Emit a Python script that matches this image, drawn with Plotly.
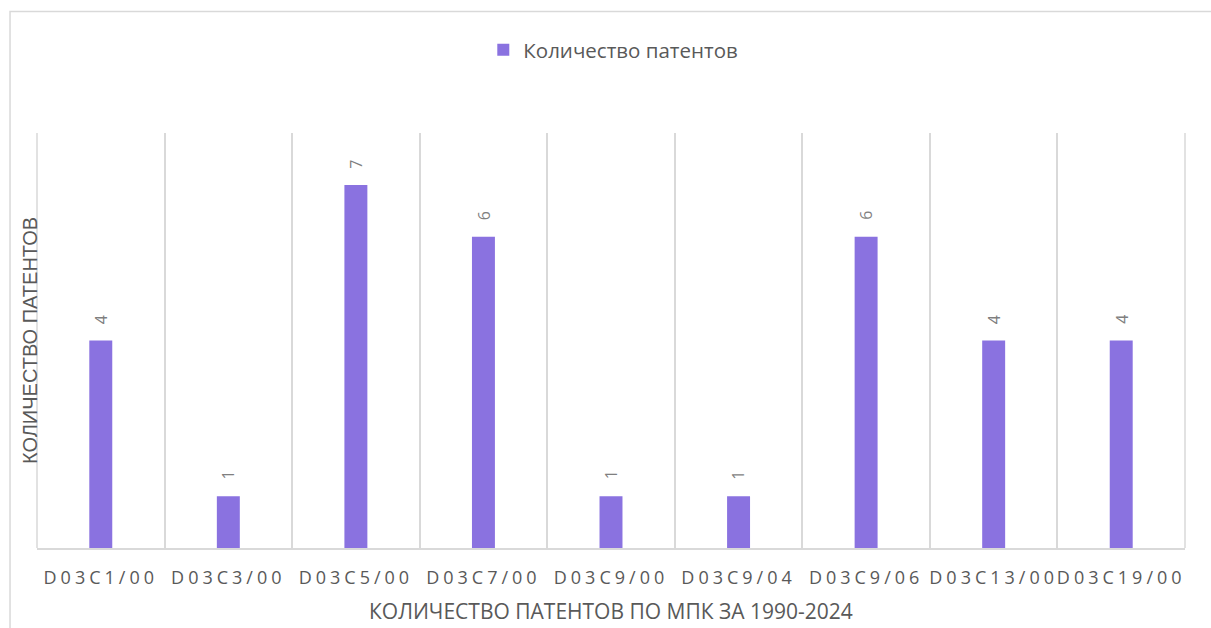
import plotly.graph_objects as go

categories = ["D03C1/00", "D03C3/00", "D03C5/00", "D03C7/00", "D03C9/00",
              "D03C9/04", "D03C9/06", "D03C13/00", "D03C19/00"]
values = [4, 1, 7, 6, 1, 1, 6, 4, 4]
series_name = "Количество патентов"
x_title = "КОЛИЧЕСТВО ПАТЕНТОВ ПО МПК ЗА 1990-2024"
y_title = "КОЛИЧЕСТВО ПАТЕНТОВ"

BAR = "#8a72e0"
GRID = "#d9d9d9"
TXT = "#595959"

fig = go.Figure()
fig.add_trace(go.Bar(x=categories, y=values, name=series_name,
                     marker=dict(color=BAR, line=dict(width=0)),
                     showlegend=True))

for c, v in zip(categories, values):
    fig.add_annotation(x=c, y=v, text=str(v), textangle=-90, showarrow=False,
                       yshift=21, font=dict(family="Open Sans", size=16, color="#7f7f7f"))

fig.add_annotation(xref="paper", yref="paper", x=-0.0065, y=0.5, text=y_title,
                   textangle=-90, showarrow=False, xanchor="center", yanchor="middle",
                   font=dict(family="Liberation Sans, Arial", size=20, color=TXT))

fig.add_annotation(xref="paper", yref="paper", x=0.5, y=-0.151, text=x_title,
                   showarrow=False, xanchor="center", yanchor="middle",
                   font=dict(family="Open Sans", size=21, color=TXT))

# outer chart border
fig.add_shape(type="rect", xref="paper", yref="paper", x0=-0.0235, x1=1.1,
              y0=-0.5, y1=1.293, line=dict(color=GRID, width=1.5), layer="below")
# outer category boundaries
for xp in (0, 1):
    fig.add_shape(type="line", xref="paper", yref="paper", x0=xp, x1=xp, y0=0, y1=1,
                  line=dict(color=GRID, width=1.5), layer="below")

fig.update_layout(
    width=1211, height=628,
    margin=dict(l=37, r=26, t=133, b=80, autoexpand=False),
    paper_bgcolor="white", plot_bgcolor="white",
    bargap=0.82,
    font=dict(family="Open Sans", color=TXT),
    legend=dict(orientation="h", x=0.502, xanchor="center", y=1.2, yanchor="middle",
                font=dict(family="Open Sans", size=20.5, color=TXT),
                itemsizing="constant", itemwidth=30),
    xaxis=dict(type="category", tickson="boundaries", showgrid=True, gridcolor=GRID,
               gridwidth=1.5, showline=True, linecolor=GRID, linewidth=1.5,
               ticks="", ticklabelstandoff=13, automargin=False,
               tickfont=dict(family="Open Sans", size=18, color=TXT),
               zeroline=False),
    yaxis=dict(range=[0, 8], visible=False, showgrid=False, zeroline=False),
)

post = """
document.body.style.margin='0';
function sp(){document.querySelectorAll('.xtick text').forEach(function(t){t.style.letterSpacing='4px';});}
sp(); setTimeout(sp, 200);
"""
fig.write_html("out.html", post_script=post, config={"displayModeBar": False})
